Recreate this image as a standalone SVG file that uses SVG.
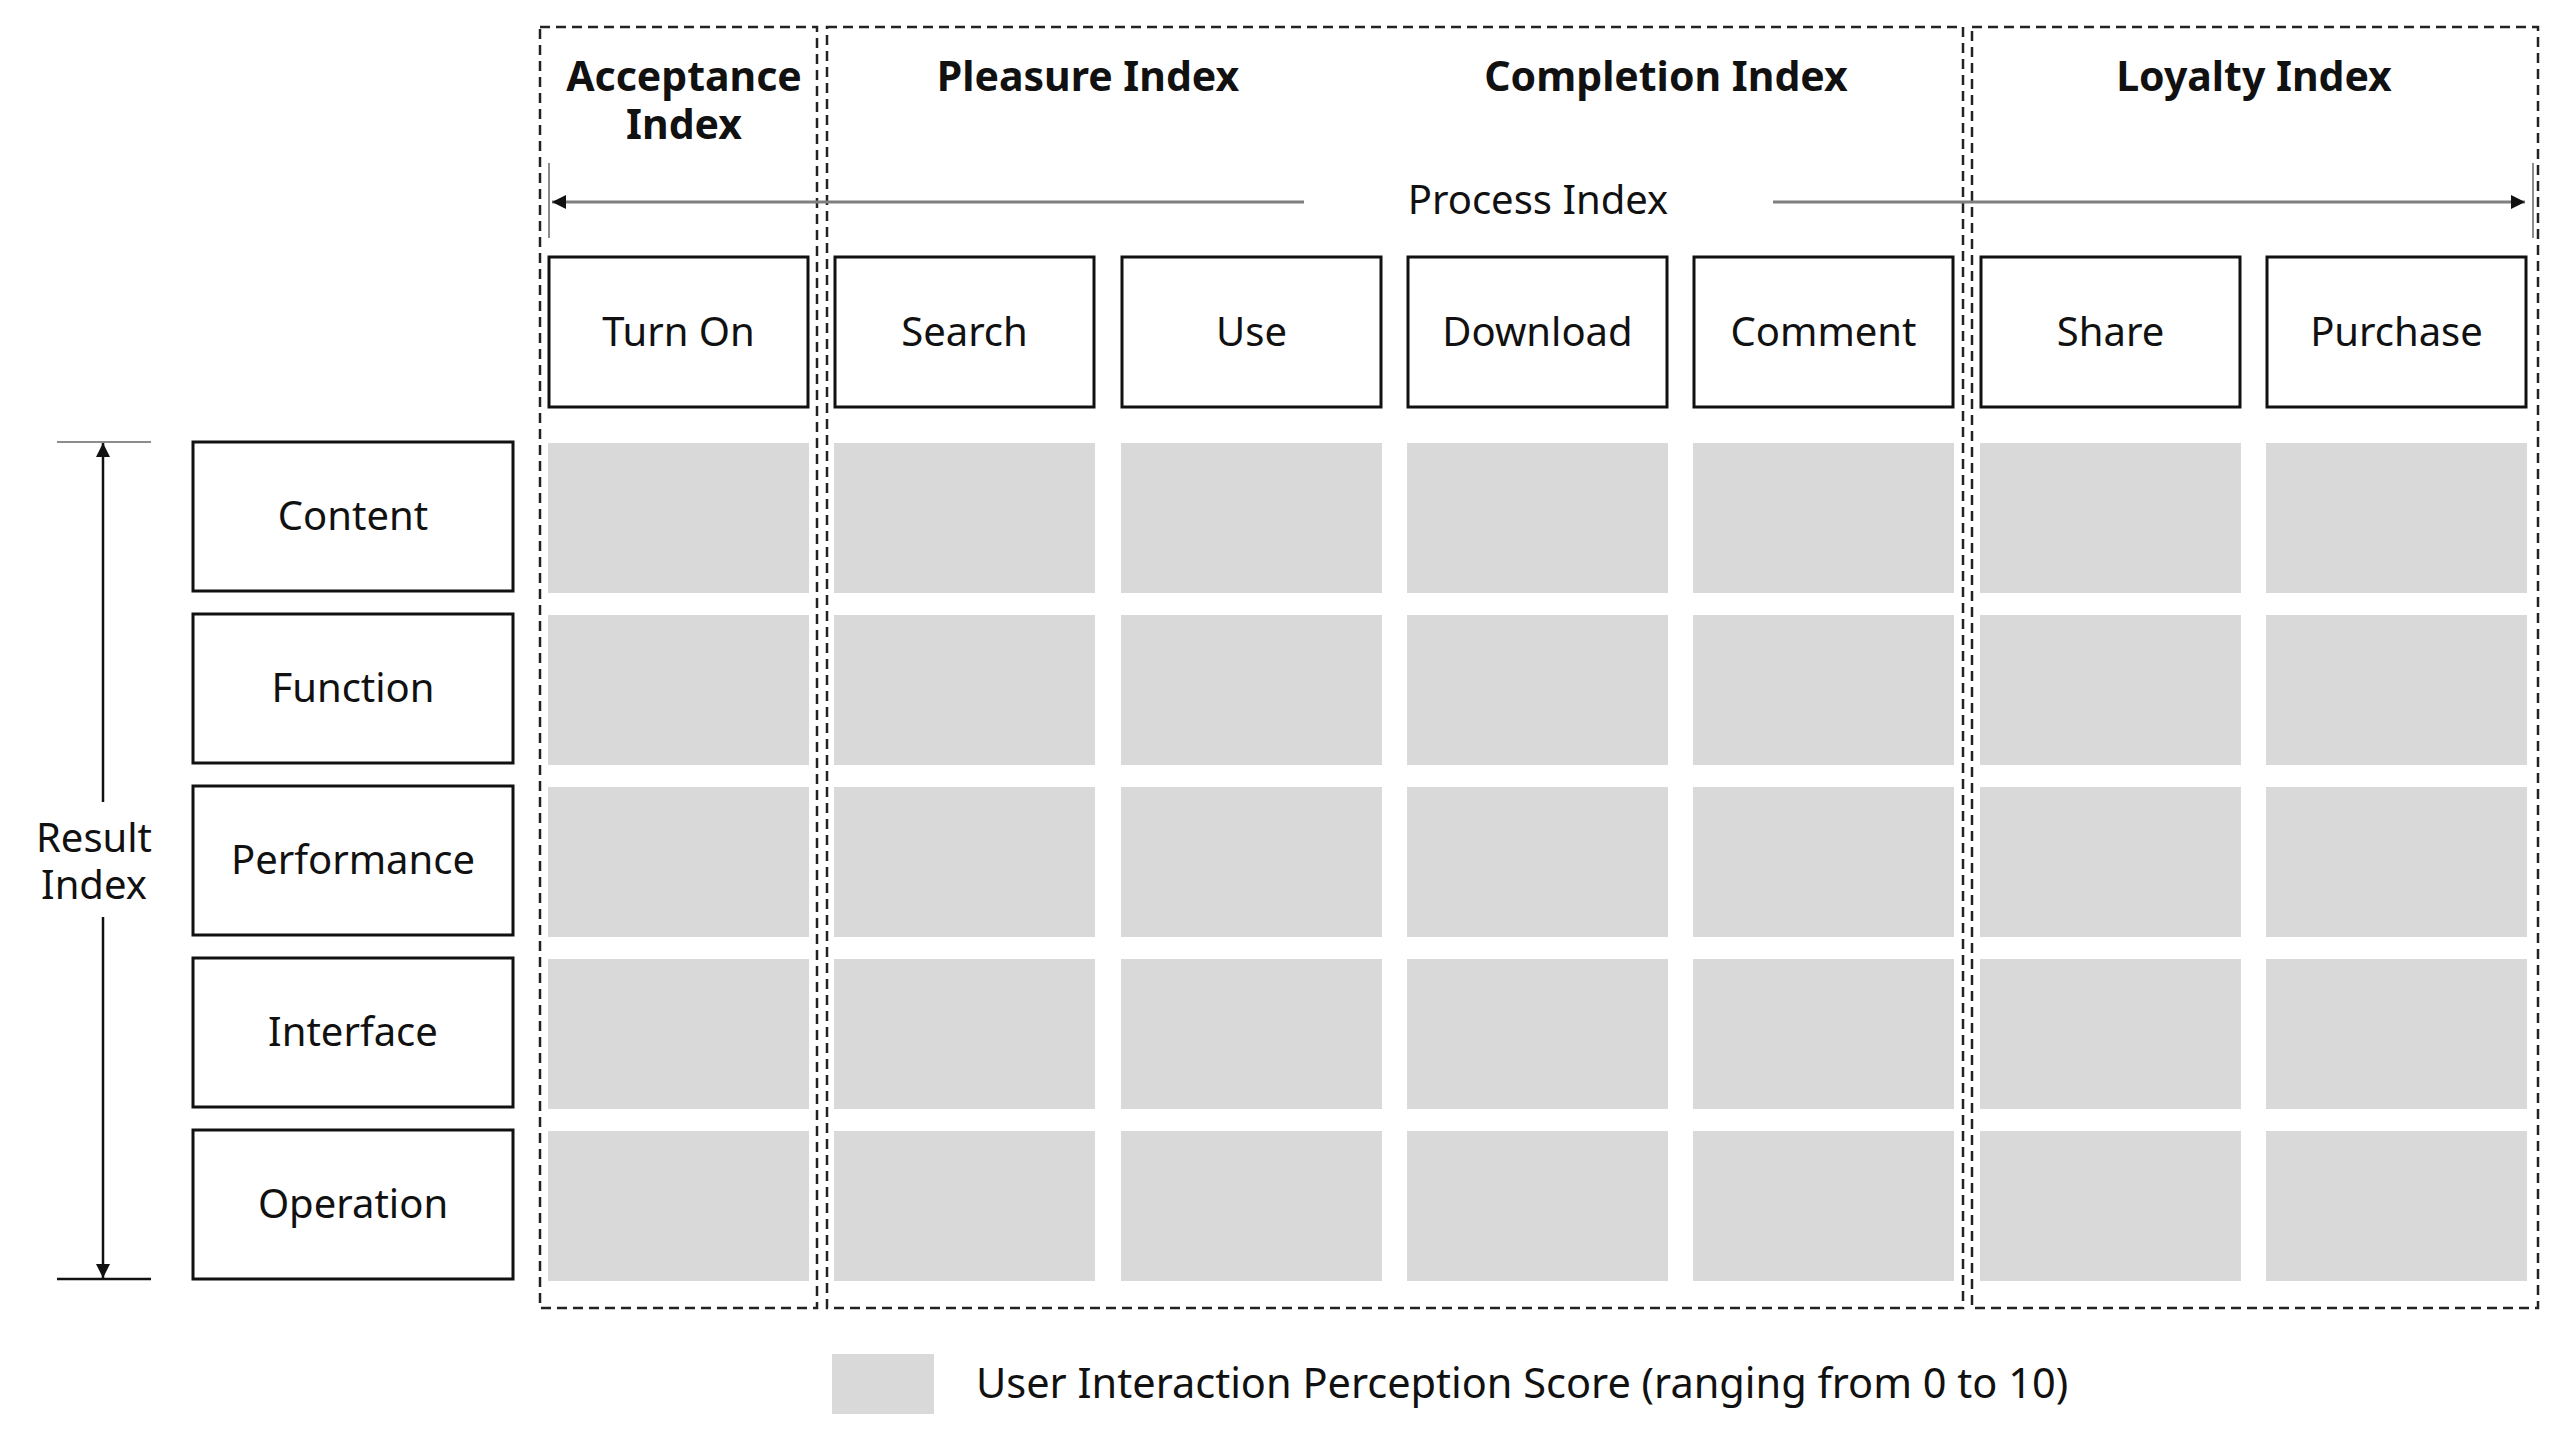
<svg xmlns="http://www.w3.org/2000/svg" width="2568" height="1448" viewBox="0 0 2568 1448">
<style>
text{font-family:"Noto Sans","Open Sans","Liberation Sans",sans-serif;fill:#111;text-anchor:middle}
.lbl{font-size:40px}
.hdr{font-size:41px;font-weight:bold}
.leg{font-size:41.5px;text-anchor:start}
.box{fill:#fff;stroke:#111;stroke-width:3}
.cell{fill:#d9d9d9}
.dash{fill:none;stroke:#222;stroke-width:2.5;stroke-dasharray:10 6}
.pline{stroke:#7f7f7f;stroke-width:3;fill:none}
.rline{stroke:#111;stroke-width:2.5;fill:none}
.tick{stroke:#8c8c8c;stroke-width:2}
</style>
<defs>
<marker id="ah" markerUnits="userSpaceOnUse" markerWidth="16" markerHeight="16" refX="14" refY="7" orient="auto">
<path d="M0,0 L14,7 L0,14 Z" fill="#111"/>
</marker>
</defs>
<rect width="2568" height="1448" fill="#fff"/>

<g id="groups">
<rect id="acceptance-frame" class="dash" x="540" y="27" width="277" height="1281"/>
<rect id="pleasure-completion-frame" class="dash" x="827" y="27" width="1136" height="1281"/>
<rect id="loyalty-frame" class="dash" x="1972" y="27" width="566" height="1281"/>
<text class="hdr" x="684" y="91">Acceptance</text>
<text class="hdr" x="684" y="139">Index</text>
<text class="hdr" x="1088" y="91">Pleasure Index</text>
<text class="hdr" x="1666" y="91">Completion Index</text>
<text class="hdr" x="2254" y="91">Loyalty Index</text>
</g>

<g id="connectors">
<line class="tick" x1="549" y1="163" x2="549" y2="238"/>
<line class="tick" x1="2533" y1="163" x2="2533" y2="238"/>
<line class="pline" x1="1304" y1="202" x2="552" y2="202" marker-end="url(#ah)"/>
<line class="pline" x1="1773" y1="202" x2="2525" y2="202" marker-end="url(#ah)"/>
<line class="tick" x1="57" y1="442" x2="151" y2="442"/>
<line x1="57" y1="1279" x2="151" y2="1279" stroke="#111" stroke-width="2.5"/>
<line class="rline" x1="103" y1="802" x2="103" y2="443" marker-end="url(#ah)"/>
<line class="rline" x1="103" y1="917" x2="103" y2="1278" marker-end="url(#ah)"/>
</g>

<g id="process-index"><text class="lbl" x="1538" y="214">Process Index</text></g>
<g id="result-index"><text class="lbl" x="94" y="852">Result</text><text class="lbl" x="94" y="899">Index</text></g>

<g id="step-turn-on"><rect class="box" x="549" y="257" width="259" height="150"/><text class="lbl" x="678.5" y="346">Turn On</text></g>
<g id="step-search"><rect class="box" x="835" y="257" width="259" height="150"/><text class="lbl" x="964.5" y="346">Search</text></g>
<g id="step-use"><rect class="box" x="1122" y="257" width="259" height="150"/><text class="lbl" x="1251.5" y="346">Use</text></g>
<g id="step-download"><rect class="box" x="1408" y="257" width="259" height="150"/><text class="lbl" x="1537.5" y="346">Download</text></g>
<g id="step-comment"><rect class="box" x="1694" y="257" width="259" height="150"/><text class="lbl" x="1823.5" y="346">Comment</text></g>
<g id="step-share"><rect class="box" x="1981" y="257" width="259" height="150"/><text class="lbl" x="2110.5" y="346">Share</text></g>
<g id="step-purchase"><rect class="box" x="2267" y="257" width="259" height="150"/><text class="lbl" x="2396.5" y="346">Purchase</text></g>

<g id="res-content"><rect class="box" x="193" y="442" width="320" height="149"/><text class="lbl" x="353" y="530">Content</text></g>
<g id="res-function"><rect class="box" x="193" y="614" width="320" height="149"/><text class="lbl" x="353" y="702">Function</text></g>
<g id="res-performance"><rect class="box" x="193" y="786" width="320" height="149"/><text class="lbl" x="353" y="874">Performance</text></g>
<g id="res-interface"><rect class="box" x="193" y="958" width="320" height="149"/><text class="lbl" x="353" y="1046">Interface</text></g>
<g id="res-operation"><rect class="box" x="193" y="1130" width="320" height="149"/><text class="lbl" x="353" y="1218">Operation</text></g>

<g id="score-cells">
<rect class="cell" x="548" y="443" width="261" height="150"/><rect class="cell" x="834" y="443" width="261" height="150"/><rect class="cell" x="1121" y="443" width="261" height="150"/><rect class="cell" x="1407" y="443" width="261" height="150"/><rect class="cell" x="1693" y="443" width="261" height="150"/><rect class="cell" x="1980" y="443" width="261" height="150"/><rect class="cell" x="2266" y="443" width="261" height="150"/>
<rect class="cell" x="548" y="615" width="261" height="150"/><rect class="cell" x="834" y="615" width="261" height="150"/><rect class="cell" x="1121" y="615" width="261" height="150"/><rect class="cell" x="1407" y="615" width="261" height="150"/><rect class="cell" x="1693" y="615" width="261" height="150"/><rect class="cell" x="1980" y="615" width="261" height="150"/><rect class="cell" x="2266" y="615" width="261" height="150"/>
<rect class="cell" x="548" y="787" width="261" height="150"/><rect class="cell" x="834" y="787" width="261" height="150"/><rect class="cell" x="1121" y="787" width="261" height="150"/><rect class="cell" x="1407" y="787" width="261" height="150"/><rect class="cell" x="1693" y="787" width="261" height="150"/><rect class="cell" x="1980" y="787" width="261" height="150"/><rect class="cell" x="2266" y="787" width="261" height="150"/>
<rect class="cell" x="548" y="959" width="261" height="150"/><rect class="cell" x="834" y="959" width="261" height="150"/><rect class="cell" x="1121" y="959" width="261" height="150"/><rect class="cell" x="1407" y="959" width="261" height="150"/><rect class="cell" x="1693" y="959" width="261" height="150"/><rect class="cell" x="1980" y="959" width="261" height="150"/><rect class="cell" x="2266" y="959" width="261" height="150"/>
<rect class="cell" x="548" y="1131" width="261" height="150"/><rect class="cell" x="834" y="1131" width="261" height="150"/><rect class="cell" x="1121" y="1131" width="261" height="150"/><rect class="cell" x="1407" y="1131" width="261" height="150"/><rect class="cell" x="1693" y="1131" width="261" height="150"/><rect class="cell" x="1980" y="1131" width="261" height="150"/><rect class="cell" x="2266" y="1131" width="261" height="150"/>
</g>

<g id="legend">
<rect class="cell" x="832" y="1354" width="102" height="60"/>
<text class="leg" x="976" y="1398">User Interaction Perception Score (ranging from 0 to 10)</text>
</g>
</svg>
